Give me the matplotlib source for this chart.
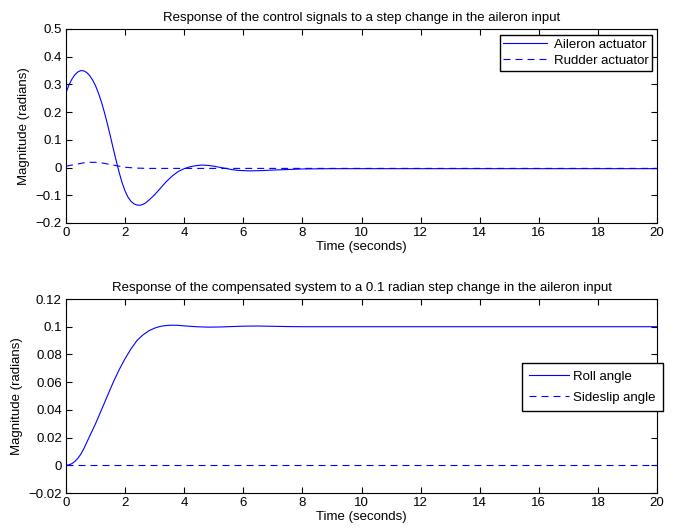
import numpy as np
import matplotlib
matplotlib.use("Agg")
import matplotlib.pyplot as plt

plt.rcParams['font.family'] = ['Liberation Sans', 'DejaVu Sans']

# top panel: control signals
t_ail = [0.0, 0.1, 0.2, 0.3, 0.4, 0.5, 0.6, 0.7, 0.8, 0.9, 1.0, 1.1, 1.2, 1.3, 1.4, 1.5,
         1.6, 1.7, 1.8, 1.9, 2.0, 2.1, 2.2, 2.3, 2.4, 2.5, 2.6, 2.7, 2.8, 2.9, 3.0, 3.2,
         3.4, 3.6, 3.8, 4.0, 4.2, 4.4, 4.6, 4.8, 5.0, 5.2, 5.4, 5.6, 5.8, 6.0, 6.2, 6.6,
         7.0, 7.5, 8.0, 9.0, 20.0]
aileron = [0.270, 0.298, 0.319, 0.335, 0.345, 0.350, 0.349, 0.343, 0.332, 0.316, 0.295,
           0.268, 0.236, 0.199, 0.158, 0.114, 0.068, 0.024, -0.018, -0.055, -0.085, -0.107,
           -0.122, -0.131, -0.135, -0.136, -0.133, -0.127, -0.118, -0.108, -0.098, -0.074,
           -0.050, -0.030, -0.014, -0.004, 0.003, 0.007, 0.009, 0.008, 0.005, 0.001, -0.003,
           -0.007, -0.010, -0.011, -0.012, -0.011, -0.009, -0.007, -0.005, -0.004, -0.004]
t_rud = [0.0, 0.2, 0.4, 0.6, 0.8, 1.0, 1.2, 1.4, 1.6, 1.8, 2.0, 2.4, 2.8, 3.5, 20.0]
rudder = [0.005, 0.009, 0.013, 0.017, 0.019, 0.019, 0.017, 0.013, 0.009, 0.005, 0.001,
          -0.002, -0.003, -0.003, -0.003]

# bottom panel: compensated system
t_roll = [0.0, 0.1, 0.2, 0.3, 0.4, 0.5, 0.6, 0.8, 1.0, 1.2, 1.4, 1.6, 1.8, 2.0, 2.2, 2.4,
          2.6, 2.8, 3.0, 3.2, 3.4, 3.6, 3.8, 4.0, 4.4, 4.8, 5.2, 5.6, 6.0, 6.5, 7.0, 7.5,
          8.0, 20.0]
roll = [0.0, 0.0003, 0.0012, 0.0028, 0.005, 0.008, 0.0118, 0.021, 0.030, 0.040, 0.050,
        0.060, 0.069, 0.077, 0.084, 0.090, 0.094, 0.097, 0.099, 0.1003, 0.1009, 0.1011,
        0.1010, 0.1006, 0.1000, 0.0997, 0.0998, 0.1001, 0.1004, 0.1005, 0.1003, 0.1001,
        0.1000, 0.1000]
t_slip = [0.0, 20.0]
sideslip = [0.0, 0.0]

W, H = 682, 531
fig = plt.figure(figsize=(W/100, H/100), dpi=100)
ax0 = fig.add_axes([66/W, 1-223/H, (657-66)/W, (223-29)/H])
ax1 = fig.add_axes([66/W, 1-493/H, (657-66)/W, (493-299)/H])

fs = 9.5
dash = (0, (6.3, 4.5))
lw = 0.8

ax0.plot(t_ail, aileron, color='blue', lw=lw, label='Aileron actuator')
ax0.plot(t_rud, rudder, color='blue', lw=lw, linestyle=dash, label='Rudder actuator')
ax0.set_xlim(0, 20)
ax0.set_ylim(-0.2, 0.5)
ax0.set_xticks(np.arange(0, 21, 2))
ax0.set_yticks(np.arange(-0.2, 0.51, 0.1))
ax0.set_yticklabels(['\u22120.2', '\u22120.1', '0', '0.1', '0.2', '0.3', '0.4', '0.5'])
ax0.set_title('Response of the control signals to a step change in the aileron input',
              fontsize=fs, pad=6)
ax0.set_xlabel('Time (seconds)', fontsize=fs, labelpad=1)
ax0.set_ylabel('Magnitude (radians)', fontsize=fs, labelpad=4)
ax0.legend(loc='upper right', bbox_to_anchor=(0.9915, 0.969), fontsize=fs, frameon=True,
           fancybox=False, edgecolor='black', framealpha=1, borderpad=0.28,
           labelspacing=0.29, handlelength=3.3, handletextpad=0.5, borderaxespad=0)

ax1.plot(t_roll, roll, color='blue', lw=lw, label='Roll angle')
ax1.plot(t_slip, sideslip, color='blue', lw=lw, linestyle=dash, label='Sideslip angle')
ax1.set_xlim(0, 20)
ax1.set_ylim(-0.02, 0.12)
ax1.set_xticks(np.arange(0, 21, 2))
ax1.set_yticks(np.arange(-0.02, 0.121, 0.02))
ax1.set_yticklabels(['\u22120.02', '0', '0.02', '0.04', '0.06', '0.08', '0.1', '0.12'])
ax1.set_title('Response of the compensated system to a 0.1 radian step change in the aileron input',
              fontsize=fs, pad=6)
ax1.set_xlabel('Time (seconds)', fontsize=fs, labelpad=1)
ax1.set_ylabel('Magnitude (radians)', fontsize=fs, labelpad=4)
leg = ax1.legend(loc='upper right', bbox_to_anchor=(1.0102, 0.670), fontsize=fs, frameon=True,
                 fancybox=False, edgecolor='black', framealpha=1, borderpad=0.55,
                 labelspacing=0.67, handlelength=3.0, handletextpad=0.33, borderaxespad=0)
leg.set_clip_on(False)

for ax in (ax0, ax1):
    ax.tick_params(direction='in', length=4.5, width=0.8, labelsize=fs, top=True, right=True, pad=3)
    for s in ax.spines.values():
        s.set_linewidth(0.8)

fig.savefig('out.png', dpi=100)
